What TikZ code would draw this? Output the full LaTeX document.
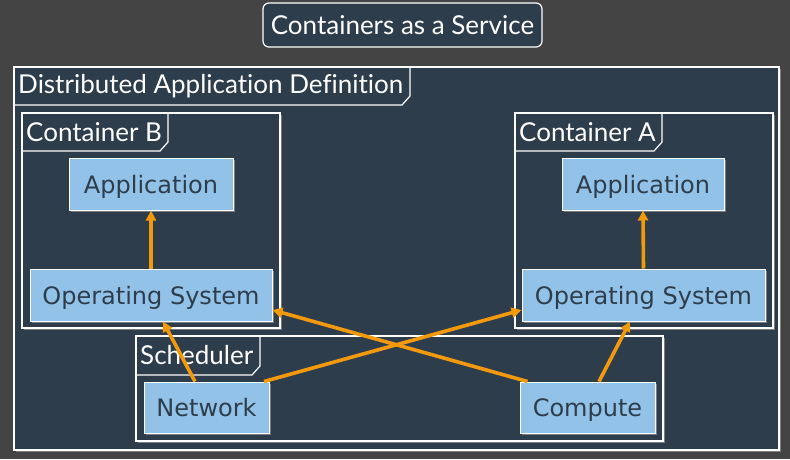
\documentclass[tikz,border=0pt]{standalone}
\usepackage{fontspec}
\setmainfont[Ligatures=NoCommon]{Lato}
\newfontfamily\partfont{DejaVu Sans}
\usetikzlibrary{positioning,arrows.meta,shadows}

\definecolor{bgcol}{HTML}{444444}
\definecolor{panel}{HTML}{2E3D4C}
\definecolor{partfill}{HTML}{92C2E8}
\definecolor{parttext}{HTML}{2E3D4C}
\definecolor{flowcol}{HTML}{F29A0C}

\begin{document}
\begin{tikzpicture}[x=1pt,y=-1pt,
    frame/.style={draw=white,fill=panel,line width=1.2pt,
      drop shadow={shadow xshift=2pt,shadow yshift=-2pt,fill=gray!80,opacity=0.7}},
    tab/.style={draw=white,line width=1.2pt},
    framelabel/.style={anchor=west,text=white,inner sep=0pt,font=\fontsize{26}{29}\selectfont},
    part/.style={rectangle,draw=white,fill=partfill,text=parttext,line width=1pt,
      inner sep=0pt,minimum height=52pt,text height=20pt,text depth=2pt,
      font=\partfont\fontsize{24}{28}\selectfont,
      drop shadow={shadow xshift=2pt,shadow yshift=-2pt,fill=gray!80,opacity=0.7}},
    flow/.style={draw=flowcol,line width=3.6pt,-{Triangle[length=10pt,width=10pt]}}]
  % background and page size
  \fill[bgcol] (0,0) rectangle (790,459);
  \useasboundingbox (0,0) rectangle (790,459);

  % title
  \node[rectangle,rounded corners=6pt,draw=white,fill=panel,line width=1.2pt,text=white,
    minimum width=279pt,minimum height=44pt,font=\fontsize{26}{29}\selectfont]
    (title) at (402.5,25) {Containers as a Service};

  % frames
  \draw[frame] (14,67) rectangle (779,450);
  \draw[tab] (14,105) -- (402,105) -- (410,96) -- (410,67);
  \node[framelabel] (dad) at (18,86) {Distributed Application Definition};

  \draw[frame] (22,113) rectangle (280,328);
  \draw[tab] (22,151) -- (160,151) -- (168,142) -- (168,113);
  \node[framelabel] (contB) at (26,132) {Container B};

  \draw[frame] (515,113) rectangle (773,328);
  \draw[tab] (515,151) -- (654,151) -- (662,142) -- (662,113);
  \node[framelabel] (contA) at (519,132) {Container A};

  \draw[frame] (136,336) rectangle (663,441);
  \draw[tab] (136,375) -- (252,375) -- (260,366) -- (260,336);
  \node[framelabel] (sched) at (140,355) {Scheduler};

  % parts
  \node[part,minimum width=164pt] (appB) at (151,184) {Application};
  \node[part,minimum width=242pt] (osB) at (151,295) {Operating System};
  \node[part,minimum width=162pt] (appA) at (643,184) {Application};
  \node[part,minimum width=243pt] (osA) at (643.5,295) {Operating System};
  \node[part,minimum width=125pt,minimum height=51pt] (net) at (206.5,407.5) {Network};
  \node[part,minimum width=135pt,minimum height=51pt] (comp) at (587.5,407.5) {Compute};

  % flows
  \draw[flow] (osB.north) -- (appB.south);
  \draw[flow] (osA.north) -- (appA.south);
  \draw[flow] ([xshift=-11.5pt]net.north) -- ([xshift=12pt]osB.south);
  \draw[flow] ([xshift=-5.5pt]net.north east) -- ([yshift=-15pt]osA.west);
  \draw[flow] ([xshift=8pt]comp.north west) -- ([yshift=-15pt]osB.east);
  \draw[flow] ([xshift=11.5pt]comp.north) -- ([xshift=-13.5pt]osA.south);
\end{tikzpicture}
\end{document}
